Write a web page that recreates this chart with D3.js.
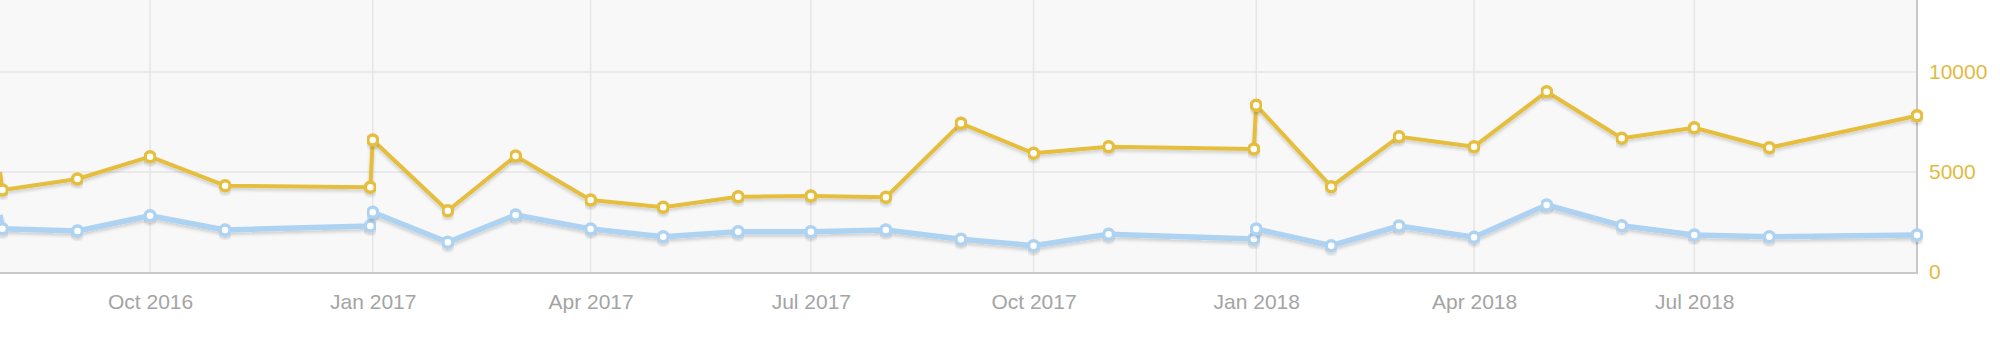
<!DOCTYPE html>
<html>
<head>
<meta charset="utf-8">
<script src="https://cdn.jsdelivr.net/npm/d3@7"></script>
<style>
  body { margin: 0; background: #fff; }
  text { font-family: "Liberation Sans", Arial, sans-serif; }
</style>
</head>
<body>
<div id="chart"></div>
<script>
// monthly values, with the extra year-end readings
var dates = ["2016-07-31", "2016-08-01", "2016-09-01", "2016-10-01", "2016-11-01", "2016-12-31",
    "2017-01-01", "2017-02-01", "2017-03-01", "2017-04-01", "2017-05-01", "2017-06-01",
    "2017-07-01", "2017-08-01", "2017-09-01", "2017-10-01", "2017-11-01", "2017-12-31",
    "2018-01-01", "2018-02-01", "2018-03-01", "2018-04-01", "2018-05-01", "2018-06-01",
    "2018-07-01", "2018-08-01", "2018-10-01"];

var goldValues = [5000, 4100, 4650, 5765, 4315, 4235,
    6600, 3065, 5800, 3600, 3235, 3765,
    3800, 3735, 7435, 5935, 6265, 6150,
    8335, 4265, 6765, 6265, 9015, 6685,
    7215, 6215, 7815];

var blueValues = [2850, 2160, 2050, 2815, 2100, 2300,
    2985, 1485, 2850, 2150, 1765, 2015,
    2015, 2100, 1635, 1315, 1885, 1650,
    2150, 1315, 2300, 1735, 3350, 2315,
    1850, 1765, 1850];

var xTickDates = ["2016-10-01", "2017-01-01", "2017-04-01", "2017-07-01",
    "2017-10-01", "2018-01-01", "2018-04-01", "2018-07-01"];

var yTickValues = [0, 5000, 10000];

var width = 1917,
    height = 273;

var parseDate = d3.timeParse("%Y-%m-%d");

var goldData = dates.map(function(d, i) { return {date: parseDate(d), value: goldValues[i]}; });
var blueData = dates.map(function(d, i) { return {date: parseDate(d), value: blueValues[i]}; });

var svg = d3.select("#chart").append("svg")
    .attr("width", 2000)
    .attr("height", 348);

var defs = svg.append("defs");

defs.append("clipPath")
    .attr("id", "plotClip")
    .append("rect")
    .attr("width", width)
    .attr("height", height);

defs.append("filter")
    .attr("id", "shadow")
    .attr("x", "-5%").attr("y", "-50%")
    .attr("width", "110%").attr("height", "200%")
    .append("feDropShadow")
    .attr("dx", 0)
    .attr("dy", 2.5)
    .attr("stdDeviation", 1.5)
    .attr("flood-color", "#000")
    .attr("flood-opacity", 0.16);

var x = d3.scaleTime()
    .domain([parseDate("2016-07-31"), parseDate("2018-10-01")])
    .range([0, width]);

var y = d3.scaleLinear()
    .domain([0, 10000])
    .range([272, 72]);

svg.append("rect")
    .attr("width", width)
    .attr("height", height)
    .attr("fill", "#f8f8f8");

// grid
var grid = svg.append("g");

grid.selectAll("line.h")
    .data([5000, 10000])
    .enter().append("line")
    .attr("class", "h")
    .attr("x1", 0)
    .attr("x2", width)
    .attr("y1", function(d) { return y(d); })
    .attr("y2", function(d) { return y(d); })
    .attr("stroke", "#e6e6e6")
    .attr("stroke-width", 1.5);

grid.selectAll("line.v")
    .data(xTickDates.map(parseDate))
    .enter().append("line")
    .attr("class", "v")
    .attr("x1", function(d) { return x(d); })
    .attr("x2", function(d) { return x(d); })
    .attr("y1", 0)
    .attr("y2", height)
    .attr("stroke", "#e6e6e6")
    .attr("stroke-width", 1.5);

// axes
var xAxis = svg.append("g")
    .attr("transform", "translate(0," + height + ")")
    .call(d3.axisBottom(x)
        .tickValues(xTickDates.map(parseDate))
        .tickSize(0)
        .tickPadding(21)
        .tickFormat(d3.timeFormat("%b %Y")));

xAxis.select(".domain").remove();
xAxis.selectAll("text")
    .attr("fill", "#a4a4a4")
    .style("font-size", "21px");

var yAxis = svg.append("g")
    .attr("transform", "translate(" + width + ",0)")
    .call(d3.axisRight(y)
        .tickValues(yTickValues)
        .tickSize(0)
        .tickPadding(12)
        .tickFormat(d3.format("d")));

yAxis.select(".domain").remove();
yAxis.selectAll("text")
    .attr("fill", "#e2ba3f")
    .style("font-size", "21px");

svg.append("line")
    .attr("x1", 0).attr("x2", width + 1)
    .attr("y1", height).attr("y2", height)
    .attr("stroke", "#c8c8c8")
    .attr("stroke-width", 2);

svg.append("line")
    .attr("x1", width).attr("x2", width)
    .attr("y1", 0).attr("y2", height + 1)
    .attr("stroke", "#c8c8c8")
    .attr("stroke-width", 2);

var line = d3.line()
    .x(function(d) { return x(d.date); })
    .y(function(d) { return y(d.value); });

function drawSeries(data, color, lineWidth, r, sw) {
    var g = svg.append("g");

    g.append("path")
        .datum(data)
        .attr("clip-path", "url(#plotClip)")
        .attr("filter", "url(#shadow)")
        .attr("fill", "none")
        .attr("stroke", color)
        .attr("stroke-width", lineWidth)
        .attr("stroke-linejoin", "round")
        .attr("d", line);

    g.selectAll("circle")
        .data(data.filter(function(d) { return d.date > x.domain()[0]; }))
        .enter().append("circle")
        .attr("filter", "url(#shadow)")
        .attr("cx", function(d) { return x(d.date); })
        .attr("cy", function(d) { return y(d.value); })
        .attr("r", r)
        .attr("fill", "#fff")
        .attr("stroke", color)
        .attr("stroke-width", sw);
}

drawSeries(blueData, "#aed3f2", 5.5, 5, 3.5);
drawSeries(goldData, "#e6be3e", 4, 5, 3.5);
</script>
</body>
</html>
